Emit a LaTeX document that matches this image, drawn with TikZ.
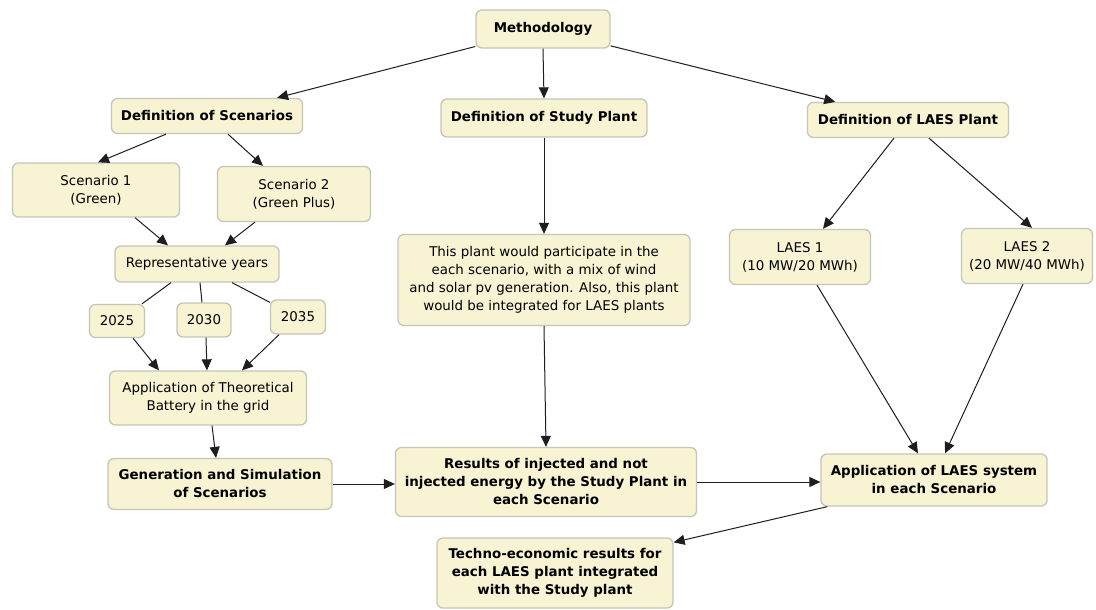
\documentclass[tikz,border=0pt]{standalone}
\usepackage{fontspec}
\setmainfont{DejaVu Sans}
\usetikzlibrary{arrows.meta,calc}
\definecolor{boxfill}{HTML}{F7F3D3}
\definecolor{boxline}{HTML}{C6C6B8}
\definecolor{arrline}{HTML}{1E1E1E}
\tikzset{
  box/.style={draw=boxline, fill=boxfill, rounded corners=6pt, line width=1.3pt,
    align=center, inner sep=2pt, font=\fontsize{13.4}{18}\selectfont},
  bbox/.style={box, font=\fontsize{13.4}{18}\selectfont\bfseries},
  arr/.style={draw=arrline, line width=1pt, -{Triangle[length=11pt,width=10pt]}},
  ln/.style={draw=arrline, line width=1pt}
}
\begin{document}
\begin{tikzpicture}[x=1pt,y=-1pt]
\useasboundingbox (0,0) rectangle (1096,610);
\fill[white] (0,0) rectangle (1096,610);
% nodes
\node[bbox, minimum width=134, minimum height=38] (meth) at (543,29) {Methodology};
\node[bbox, minimum width=191, minimum height=35] (dscen) at (207,116) {Definition of Scenarios};
\node[bbox, minimum width=206, minimum height=38] (dstudy) at (544,118) {Definition of Study Plant};
\node[bbox, minimum width=201, minimum height=35] (dlaes) at (908,120) {Definition of LAES Plant};
\node[box, minimum width=167, minimum height=54] (sc1) at (96,190) {Scenario 1\\(Green)};
\node[box, minimum width=153, minimum height=55] (sc2) at (294,194) {Scenario 2\\(Green Plus)};
\node[box, minimum width=164, minimum height=36] (rep) at (197,264) {Representative years};
\node[box, minimum width=55, minimum height=33] (y25) at (117,321) {2025};
\node[box, minimum width=54, minimum height=34] (y30) at (204,320) {2030};
\node[box, minimum width=55, minimum height=34] (y35) at (298,317) {2035};
\node[box, minimum width=197, minimum height=54] (theo) at (208,398) {Application of Theoretical\\Battery in the grid};
\node[bbox, minimum width=224, minimum height=51] (gen) at (220,484) {Generation and Simulation\\of Scenarios};
\node[box, minimum width=292, minimum height=91] (plant) at (544,280) {This plant would participate in the\\each scenario, with a mix of wind\\and solar pv generation. Also, this plant\\would be integrated for LAES plants};
\node[bbox, minimum width=301, minimum height=69] (res) at (546,482) {Results of injected and not\\injected energy by the Study Plant in\\each Scenario};
\node[bbox, minimum width=236, minimum height=70] (tech) at (555,573) {Techno-economic results for\\each LAES plant integrated\\with the Study plant};
\node[box, minimum width=141, minimum height=55] (l1) at (800,257) {LAES 1\\(10 MW/20 MWh)};
\node[box, minimum width=131, minimum height=55] (l2) at (1027,256) {LAES 2\\(20 MW/40 MWh)};
\node[bbox, minimum width=226, minimum height=52] (alaes) at (934,480) {Application of LAES system\\in each Scenario};
% connectors
\draw[arr] (meth) -- (dscen);
\draw[arr] (meth.south) -- (dstudy.north);
\draw[arr] (meth) -- (dlaes);
\draw[arr] ([xshift=-41pt]dscen.south) -- ([xshift=2pt]sc1.north);
\draw[arr] ([xshift=21pt]dscen.south) -- ([xshift=-31pt]sc2.north);
\draw[arr] ([xshift=39pt]sc1.south) -- ([xshift=-29pt]rep.north);
\draw[arr] ([xshift=-39pt]sc2.south) -- ([xshift=28pt]rep.north);
\draw[ln] ([xshift=-26pt]rep.south) -- ([xshift=25pt]y25.north);
\draw[ln] ([xshift=3pt]rep.south) -- ([xshift=-2pt]y30.north);
\draw[ln] ([xshift=35pt]rep.south) -- ([yshift=-3pt]y35.north west);
\draw[arr] ([xshift=16pt]y25.south) -- ([xshift=-49pt]theo.north);
\draw[arr] ([xshift=2pt]y30.south) -- ([xshift=-1pt]theo.north);
\draw[arr] ([xshift=-19pt]y35.south) -- ([xshift=34pt]theo.north);
\draw[arr] ([xshift=4pt]theo.south) -- ([xshift=-4pt]gen.north);
\draw[arr] (gen.east) -- (gen.east -| res.west);
\draw[arr] (dstudy.south) -- (plant.north);
\draw[arr] (plant.south) -- (res.north);
\draw[arr] (res.east) -- (res.east -| alaes.west);
\draw[arr] ([xshift=-14pt]dlaes.south) -- ([xshift=23pt]l1.north);
\draw[arr] ([xshift=21pt]dlaes.south) -- ([xshift=5pt]l2.north);
\draw[arr] ([xshift=17pt]l1.south) -- ([xshift=-16pt]alaes.north);
\draw[arr] ([xshift=-4pt]l2.south) -- ([xshift=11pt]alaes.north);
\draw[arr] ([xshift=7pt]alaes.south west) -- ([yshift=-5pt]tech.north east);
\end{tikzpicture}
\end{document}
